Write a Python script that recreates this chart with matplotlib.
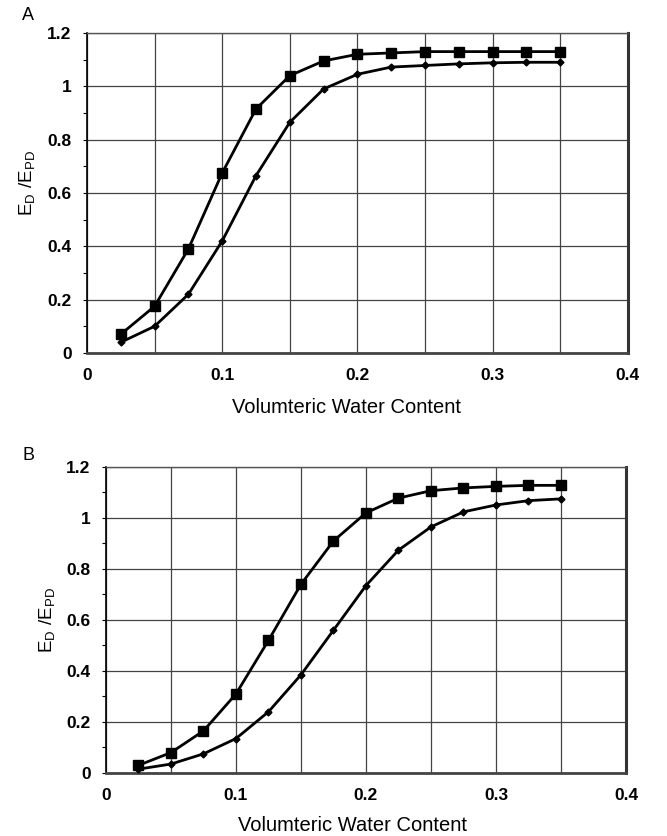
import matplotlib
matplotlib.use("Agg")
import matplotlib.pyplot as plt
from matplotlib.ticker import MultipleLocator

plt.rcParams['font.family'] = ['Liberation Sans', 'DejaVu Sans']

# volumetric water content (x) shared by both panels
theta = [0.025, 0.05, 0.075, 0.1, 0.125, 0.15, 0.175, 0.2, 0.225, 0.25, 0.275, 0.3, 0.325, 0.35]

# panel A
a_square = [0.07, 0.175, 0.39, 0.675, 0.915, 1.04, 1.095, 1.12, 1.125, 1.13, 1.13, 1.13, 1.13, 1.13]
a_diamond = [0.04, 0.10, 0.22, 0.42, 0.665, 0.865, 0.99, 1.045, 1.072, 1.078, 1.084, 1.088, 1.09, 1.09]

# panel B
b_square = [0.03, 0.08, 0.165, 0.31, 0.52, 0.74, 0.91, 1.02, 1.078, 1.107, 1.118, 1.124, 1.128, 1.128]
b_diamond = [0.015, 0.035, 0.075, 0.135, 0.24, 0.385, 0.56, 0.735, 0.874, 0.965, 1.024, 1.051, 1.068, 1.075]

x_ticks = [0, 0.1, 0.2, 0.3, 0.4]
x_labels = ["0", "0.1", "0.2", "0.3", "0.4"]
y_ticks = [0, 0.2, 0.4, 0.6, 0.8, 1.0, 1.2]
y_labels = ["0", "0.2", "0.4", "0.6", "0.8", "1", "1.2"]

fig = plt.figure(figsize=(6.67, 8.36), dpi=100)
ax_a = fig.add_axes([0.1304, 0.5778, 0.811, 0.3828])
ax_b = fig.add_axes([0.1589, 0.0754, 0.7796, 0.366])


def style_panel(ax, sq, di, xlab_pos, ylab_pos):
    ax.plot(theta, sq, color="black", lw=2.0, marker="s", ms=7.8, zorder=4)
    ax.plot(theta, di, color="black", lw=2.0, marker="D", ms=3.5, zorder=4)
    ax.set_xlim(0, 0.4)
    ax.set_ylim(0, 1.2)
    ax.set_xticks(x_ticks)
    ax.set_xticklabels(x_labels)
    ax.xaxis.set_minor_locator(MultipleLocator(0.05))
    ax.set_yticks(y_ticks)
    ax.set_yticklabels(y_labels)
    ax.yaxis.set_minor_locator(MultipleLocator(0.1))
    ax.grid(True, which="major", color="#444444", lw=0.9)
    ax.grid(True, which="minor", axis="x", color="#444444", lw=0.9)
    ax.tick_params(axis="x", which="both", length=0, pad=11, labelsize=12.5)
    ax.tick_params(axis="y", which="both", direction="out", length=3, width=0.8,
                   pad=8, labelsize=12.5)
    for lab in ax.get_xticklabels() + ax.get_yticklabels():
        lab.set_fontweight("bold")
    ax.spines["left"].set_color("black")
    ax.spines["left"].set_linewidth(1.2)
    ax.spines["top"].set_color("#555555")
    ax.spines["top"].set_linewidth(1.0)
    ax.spines["right"].set_color("#333333")
    ax.spines["right"].set_linewidth(2.2)
    ax.spines["bottom"].set_color("#444444")
    ax.spines["bottom"].set_linewidth(2.0)
    ax.set_xlabel("Volumteric Water Content", fontsize=14.5)
    ax.xaxis.set_label_coords(*xlab_pos)
    ax.set_ylabel(r"$\mathregular{E_D\ /E_{PD}}$", fontsize=13.5)
    ax.yaxis.set_label_coords(*ylab_pos)


style_panel(ax_a, a_square, a_diamond, (0.48, -0.14), (-0.093, 0.53))
style_panel(ax_b, b_square, b_diamond, (0.475, -0.14), (-0.095, 0.5))

fig.text(22 / 667, 1 - 15 / 836, "A", fontsize=13, va="center", ha="left")
fig.text(22 / 667, 1 - 455 / 836, "B", fontsize=13, va="center", ha="left")

fig.savefig("out.png", dpi=100)
